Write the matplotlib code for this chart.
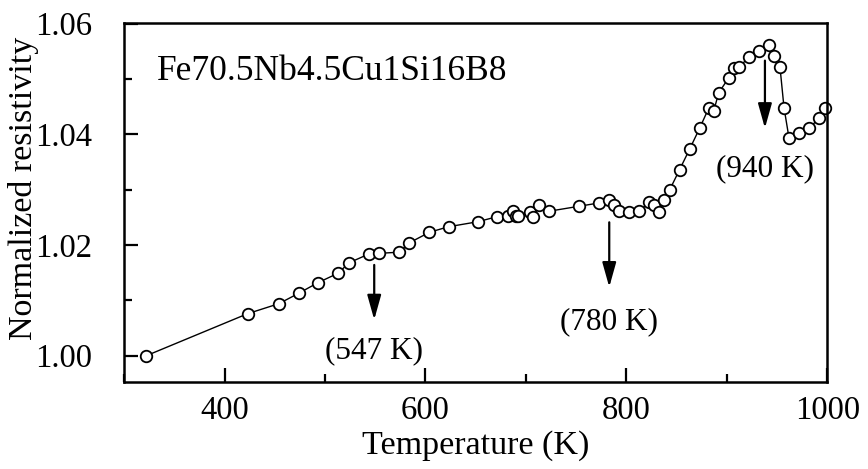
import matplotlib
matplotlib.use("Agg")
import matplotlib.pyplot as plt
from matplotlib.ticker import MultipleLocator

plt.rcParams['font.family'] = ['Liberation Serif', 'DejaVu Serif']

# Data
temp = [322, 423, 454, 474, 493, 513, 524, 544, 554, 574, 584, 604, 623, 652,
        671, 682, 687, 690, 692, 704, 707, 713, 723, 753, 773, 783, 788, 793,
        803, 813, 823, 828, 833, 838, 843, 853, 863, 873, 882, 887, 892, 902,
        907, 912, 922, 932, 942, 947, 953, 957, 962, 972, 982, 992, 998]
resist = [1.0000, 1.0076, 1.0094, 1.0113, 1.0132, 1.0149, 1.0168, 1.0184,
          1.0185, 1.0187, 1.0204, 1.0223, 1.0233, 1.0242, 1.0251, 1.0253,
          1.0261, 1.0253, 1.0253, 1.0259, 1.0250, 1.0272, 1.0261, 1.0270,
          1.0276, 1.0281, 1.0272, 1.0262, 1.0259, 1.0261, 1.0278, 1.0272,
          1.0259, 1.0281, 1.0299, 1.0336, 1.0373, 1.0411, 1.0447, 1.0442,
          1.0475, 1.0502, 1.0520, 1.0521, 1.0539, 1.0550, 1.0561, 1.0541,
          1.0521, 1.0448, 1.0393, 1.0402, 1.0411, 1.0429, 1.0447]

marks = [549, 783, 938]
mark_labels = ["(547 K)", "(780 K)", "(940 K)"]
arrow_top = [1.0164, 1.0241, 1.0533]
arrow_tip = [1.0065, 1.0124, 1.0411]
label_y = [1.0009, 1.0061, 1.0337]

fig = plt.figure(figsize=(8.68, 4.69), dpi=100)
ax = fig.add_axes([0.143, 0.186, 0.81, 0.765])

ax.plot(temp, resist, '-o', color='black', lw=1.0, ms=8.3,
        mfc='white', mec='black', mew=1.3, clip_on=False)

for x, lab, y0, y1, ty in zip(marks, mark_labels, arrow_top, arrow_tip, label_y):
    ax.annotate('', xy=(x, y1), xytext=(x, y0),
                arrowprops=dict(arrowstyle='-|>,head_length=1.0,head_width=0.28',
                                color='black', lw=1.6,
                                mutation_scale=15, shrinkA=0, shrinkB=0))
    ax.text(x, ty, lab, ha='center', va='center', fontsize=22.5)

ax.text(0.047, 0.864, "Fe70.5Nb4.5Cu1Si16B8", transform=ax.transAxes,
        ha='left', va='center', fontsize=25.5)

ax.set_xlim(300, 1000)
ax.set_ylim(0.9953, 1.0601)
ax.xaxis.set_major_locator(MultipleLocator(200))
ax.xaxis.set_minor_locator(MultipleLocator(100))
ax.yaxis.set_major_locator(MultipleLocator(0.02))
ax.yaxis.set_minor_locator(MultipleLocator(0.01))
ax.yaxis.set_major_formatter(matplotlib.ticker.FormatStrFormatter('%.2f'))

ax.tick_params(which='both', direction='in', top=False, right=False, width=1.6)
ax.tick_params(which='major', length=10, labelsize=23.5)
ax.tick_params(which='minor', length=6)
ax.tick_params(axis='y', pad=23)
ax.tick_params(axis='x', pad=10)
for s in ax.spines.values():
    s.set_linewidth(1.8)

ax.set_xlabel("Temperature (K)", fontsize=24.5)
ax.set_ylabel("Normalized resistivity", fontsize=24.5)
ax.yaxis.set_label_coords(-0.121, 0.54)
ax.xaxis.set_label_coords(0.5, -0.136)

fig.savefig("out.png", dpi=100)
